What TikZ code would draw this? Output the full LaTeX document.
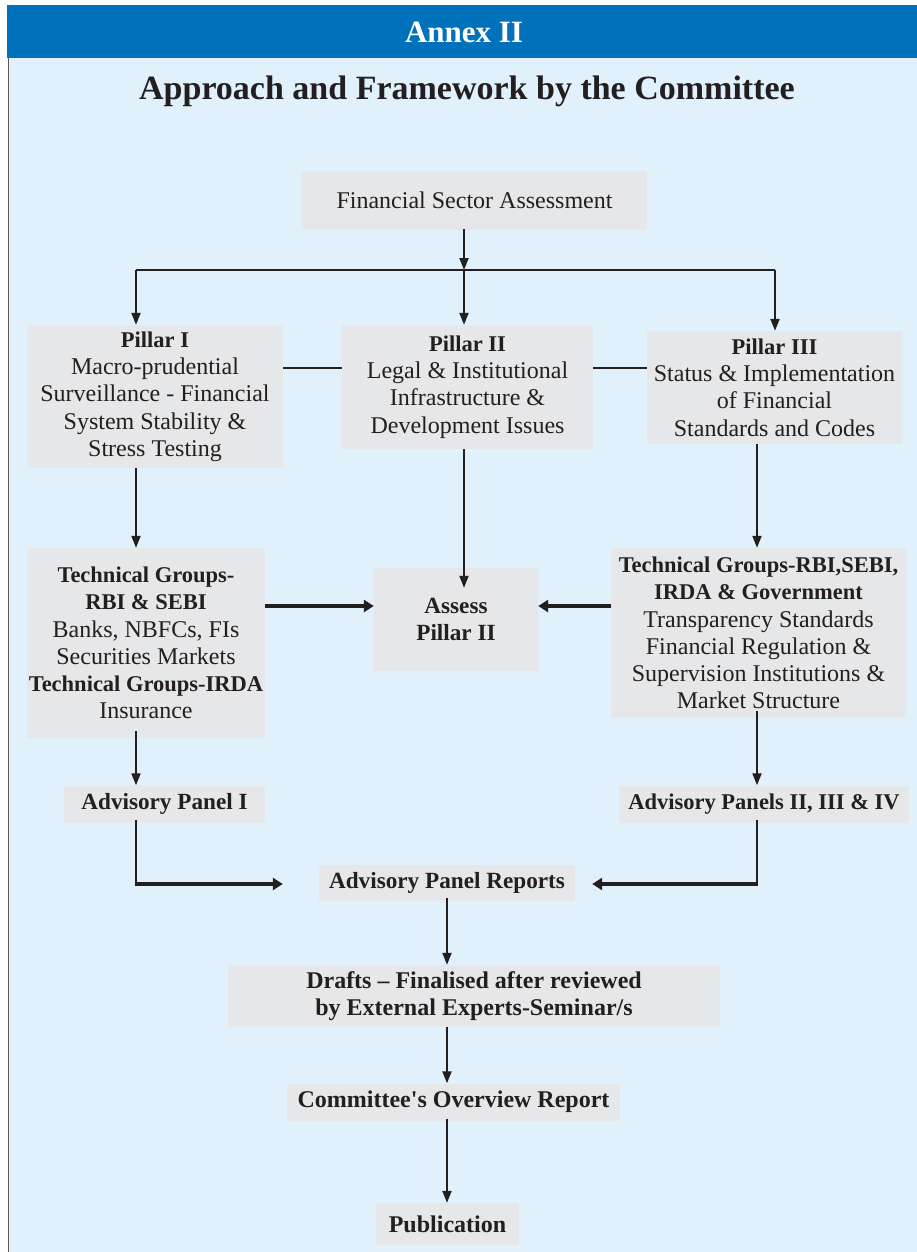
\documentclass[tikz,border=0pt]{standalone}
\usepackage{fontspec}
\setmainfont{Liberation Serif}
\usetikzlibrary{arrows.meta,calc}
\definecolor{hdrblue}{HTML}{0071BB}
\definecolor{bgblue}{HTML}{E0F1FB}
\definecolor{boxgray}{HTML}{E6E7E8}
\definecolor{ink}{HTML}{231F20}
\newcommand{\bodyfont}{\fontsize{24}{27.3}\selectfont}
\newcommand{\boldfont}{\fontsize{23.2}{27.3}\selectfont\bfseries}
\newcommand{\bl}[1]{{\fontsize{22.5}{27.3}\selectfont\bfseries #1}}
\begin{document}
\begin{tikzpicture}[x=1pt,y=-1pt,
  box/.style={fill=boxgray, inner sep=0pt, align=center, font=\bodyfont, text=ink},
  bbox/.style={box, font=\boldfont},
  arr/.style={draw=ink, line width=2pt, -{Triangle[length=12pt,width=9pt]}},
  thickarr/.style={draw=ink, line width=3.5pt, -{Triangle[length=10pt,width=12pt]}},
  plain/.style={draw=ink, line width=1.5pt},
  thin/.style={draw=ink, line width=1.2pt}]
\useasboundingbox (0,0) rectangle (917,1252);
\fill[white] (0,0) rectangle (917,1252);
\fill[bgblue] (8,58) rectangle (917,1252);
\draw[gray!70!black, line width=1pt] (8.5,58) -- (8.5,1252);
\fill[hdrblue] (7,5) rectangle (917,58);
\node[text=white, font=\fontsize{31}{36}\selectfont\bfseries] (annex) at (464,32) {Annex II};
\node[text=ink, font=\fontsize{34}{40}\selectfont\bfseries] (title) at (467,91) {Approach and Framework by the Committee};

% boxes
\node[box, minimum width=345, minimum height=59] (fsa) at (474.5,200.5) {Financial Sector Assessment};
\node[box, minimum width=256, minimum height=143] (p1) at (155,396.5)
  {\bl{Pillar I}\\Macro-prudential\\Surveillance - Financial\\System Stability \&\\Stress Testing};
\node[box, minimum width=251, minimum height=124] (p2) at (467.5,387)
  {\bl{Pillar II}\\Legal \& Institutional\\Infrastructure \&\\Development Issues};
\node[box, minimum width=255, minimum height=113] (p3) at (774.5,387.5)
  {\bl{Pillar III}\\Status \& Implementation\\of Financial\\Standards and Codes};
\node[box, minimum width=238, minimum height=190] (tl) at (146,643)
  {\bl{Technical Groups-}\\\bl{RBI \& SEBI}\\Banks, NBFCs, FIs\\Securities Markets\\\bl{Technical Groups-IRDA}\\Insurance};
\node[bbox, minimum width=164, minimum height=103] (as) at (456,619.5)
  {Assess\\Pillar II};
\node[box, minimum width=295, minimum height=170] (tr) at (758.5,633)
  {\bl{Technical Groups-RBI,SEBI,}\\\bl{IRDA \& Government}\\Transparency Standards\\Financial Regulation \&\\Supervision Institutions \&\\Market Structure};
\node[bbox, minimum width=201, minimum height=37] (ap1) at (164.5,804) {Advisory Panel I};
\node[bbox, minimum width=290, minimum height=37, font=\fontsize{22.5}{27.3}\selectfont\bfseries] (ap2) at (764,804) {Advisory Panels II, III \& IV};
\node[bbox, minimum width=256, minimum height=36] (apr) at (447,883) {Advisory Panel Reports};
\node[bbox, minimum width=492, minimum height=62, font=\fontsize{24}{27.5}\selectfont\bfseries] (dr) at (474,996)
  {Drafts -- Finalised after reviewed\\by External Experts-Seminar/s};
\node[bbox, minimum width=333, minimum height=37, font=\fontsize{24}{27.5}\selectfont\bfseries] (cor) at (453.5,1102) {Committee\textquotesingle s Overview Report};
\node[bbox, minimum width=143, minimum height=42, font=\fontsize{24}{27.5}\selectfont\bfseries] (pub) at (447.5,1224) {Publication};

% top split
\coordinate (sm) at (464,270);
\coordinate (sl) at (136,270);
\coordinate (sr) at (775,270);
\draw[arr] ([yshift=1pt]fsa.south -| sm) -- (sm);
\draw[plain] (sl) -- (sr);
\draw[arr] (sl) -- (p1.north -| sl);
\draw[arr] (sm) -- (p2.north -| sm);
\draw[arr] (sr) -- (p3.north -| sr);

% pillar links
\coordinate (hy) at (0,368);
\draw[plain] (p1.east |- hy) -- (p2.west |- hy);
\draw[plain] (p2.east |- hy) -- (p3.west |- hy);

% down to technical groups
\coordinate (xl) at (136,0);
\coordinate (xm) at (464,0);
\coordinate (xr) at (757,0);
\draw[arr] (p1.south -| xl) -- (tl.north -| xl);
\draw[arr] (p2.south -| xm) -- ([yshift=-20pt]as.north -| xm);
\draw[arr] (p3.south -| xr) -- (tr.north -| xr);

% to assess
\coordinate (ay) at (0,606);
\draw[thickarr] (tl.east |- ay) -- (as.west |- ay);
\draw[thickarr] (tr.west |- ay) -- (as.east |- ay);

% to advisory panels
\draw[arr] ([yshift=7pt]tl.south -| xl) -- (ap1.north -| xl);
\draw[arr] ([yshift=7pt]tr.south -| xr) -- (ap2.north -| xr);

% to reports
\coordinate (ry) at (0,884);
\draw[thin] ([yshift=3pt]ap1.south -| xl) -- (xl |- ry);
\draw[thickarr] ([xshift=-0.6pt]xl |- ry) -- ([xshift=-36pt]apr.west |- ry);
\draw[thin] ([yshift=3pt]ap2.south -| xr) -- (xr |- ry);
\draw[thickarr] ([xshift=0.6pt]xr |- ry) -- ([xshift=17pt]apr.east |- ry);

% lower chain
\coordinate (xc) at (447,0);
\draw[arr] ([yshift=3pt]apr.south -| xc) -- (dr.north -| xc);
\draw[arr] (dr.south -| xc) -- (cor.north -| xc);
\draw[arr] ([yshift=2pt]cor.south -| xc) -- (pub.north -| xc);
\end{tikzpicture}
\end{document}
